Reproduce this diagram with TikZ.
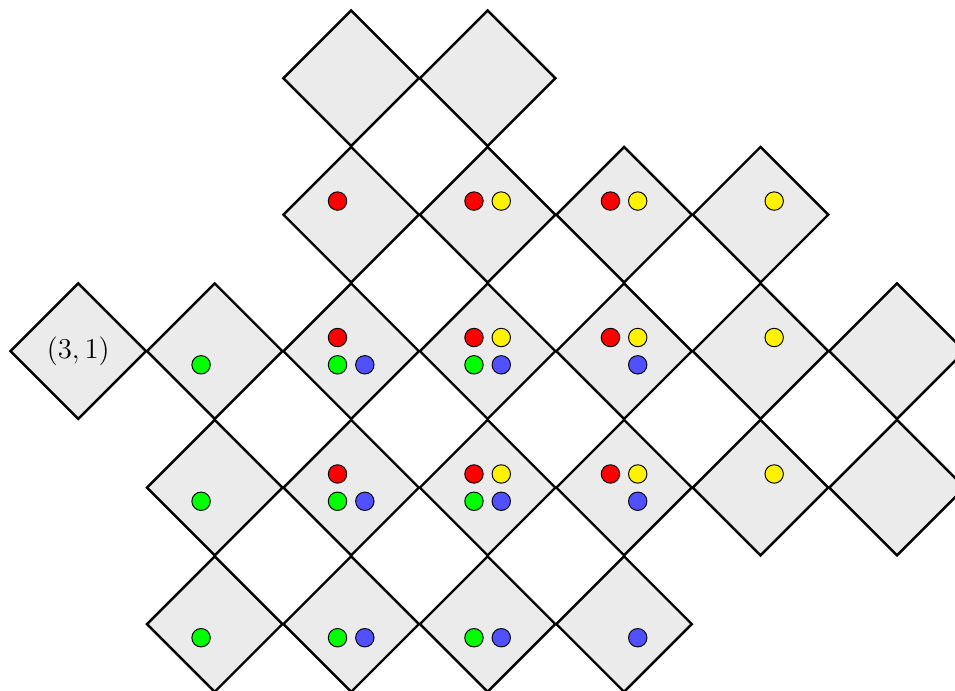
\documentclass[tikz,border=0pt]{standalone}
\usetikzlibrary{shapes.geometric}
\definecolor{cellgray}{gray}{0.92}
\definecolor{tokblue}{RGB}{80,80,255}

\begin{document}
\begin{tikzpicture}[
    cell/.style={
        diamond,
        draw=black,
        fill=cellgray,
        line width=1pt,
        minimum size=2cm,
        inner sep=0pt,
        font=\fontsize{13}{15}\selectfont
    },
    token/.style={
        circle,
        draw=black,
        thin,
        minimum size=0.27cm,
        inner sep=0pt
    }
]
    \useasboundingbox (-1.147,1.147) rectangle (12.85,-8.98);

    % Cells (row-column)
    \foreach \r/\c in {0/2,0/3,
                       1/2,1/3,1/4,1/5,
                       2/1,2/2,2/3,2/4,2/5,2/6,
                       3/1,3/2,3/3,3/4,3/5,3/6,
                       4/1,4/2,4/3,4/4}
        \node (cell-\r-\c) [cell] at (2*\c,-2*\r) {};
    \node (cell-2-0) [cell] at (0,-4) {$(3,1)$};

    % Tokens
    \foreach \r in {1,2,3} {
        \foreach \c in {2,3,4}
            \node (red-\r-\c) [token, fill=red] at ([shift={(-0.2,0.2)}]cell-\r-\c.center) {};
        \foreach \c in {3,4,5}
            \node (yellow-\r-\c) [token, fill=yellow] at ([shift={(0.2,0.2)}]cell-\r-\c.center) {};
    }
    \foreach \r in {2,3,4} {
        \foreach \c in {1,2,3}
            \node (green-\r-\c) [token, fill=green] at ([shift={(-0.2,-0.2)}]cell-\r-\c.center) {};
        \foreach \c in {2,3,4}
            \node (blue-\r-\c) [token, fill=tokblue] at ([shift={(0.2,-0.2)}]cell-\r-\c.center) {};
    }

\end{tikzpicture}
\end{document}
